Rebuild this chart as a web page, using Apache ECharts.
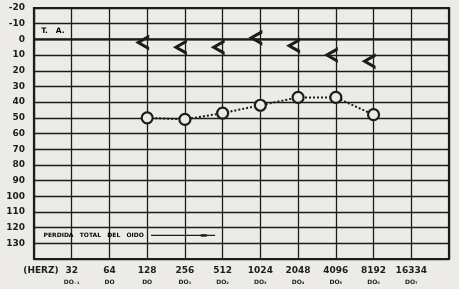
<!DOCTYPE html>
<html><head><meta charset="utf-8">
<script src="https://cdn.jsdelivr.net/npm/echarts@6/dist/echarts.min.js"></script>
<style>html,body{margin:0;padding:0;background:#ecebe8}#c{width:459px;height:289px}</style>
</head><body><div id="c"></div>
<script>
const freqLabels = ['32','64','128','256','512','1024','2048','4096','8192','16334'];
const noteLabels = ['DO₋₁','DO','DO','DO₁','DO₂','DO₃','DO₄','DO₅','DO₆','DO₇'];
const freqPos = [1,2,3,4,5,6,7,8,9,10];
const testPos = [3,4,5,6,7,8,9];
const airValues = [50,51,47,42,37,37,48];
const boneValues = [2,5,5,-1,4,10,14];
const yTicks = [-20,-10,0,10,20,30,40,50,60,70,80,90,100,110,120,130];

const ink = '#1c1c1c';
const bg = '#ecebe8';
const chart = echarts.init(document.getElementById('c'));
const chev = 'path://M13,0 L0,8 L13,16 L13,12.4 L5.6,8 L13,3.6 Z';
chart.setOption({
  backgroundColor: bg,
  animation: false,
  grid: {left: 34, right: 10, top: 8, bottom: 30, show: true, borderColor: ink, borderWidth: 2.2, backgroundColor: 'transparent'},
  xAxis: {
    type: 'value', min: 0, max: 11, interval: 1,
    axisLine: {show: false}, axisTick: {show: false},
    splitLine: {show: true, lineStyle: {color: ink, width: 1.3}},
    axisLabel: {
      margin: 6, color: ink,
      formatter: function (v) {
        if (v === 0) return '{h|(HERZ)}\n{b| }';
        const i = freqPos.indexOf(v);
        if (i < 0) return '';
        return '{a|' + freqLabels[i] + '}\n{b|' + noteLabels[i] + '}';
      },
      rich: {
        a: {fontFamily: 'DejaVu Sans', fontWeight: 'bold', fontSize: 9, color: ink, lineHeight: 12},
        h: {fontFamily: 'DejaVu Sans', fontWeight: 'bold', fontSize: 9, color: ink, lineHeight: 12, padding: [0,0,0,14]},
        b: {fontFamily: 'DejaVu Sans', fontWeight: 'bold', fontSize: 6, color: ink, lineHeight: 10}
      }
    }
  },
  yAxis: {
    type: 'value', inverse: true, min: -20, max: 140, interval: 10,
    axisLine: {show: false}, axisTick: {show: false},
    splitLine: {show: true, lineStyle: {color: ink, width: 1.3}},
    axisLabel: {
      margin: 9, color: ink, fontFamily: 'DejaVu Sans', fontWeight: 'bold', fontSize: 9,
      formatter: function (v) { return yTicks.indexOf(v) >= 0 ? String(v) : ''; }
    }
  },
  series: [
    {
      type: 'line', data: [[0, 0], [11, 0]], symbol: 'none', silent: true,
      lineStyle: {color: ink, width: 2.4}, z: 1
    },
    {
      type: 'scatter', symbol: 'circle', symbolSize: 1, silent: true,
      itemStyle: {color: 'rgba(0,0,0,0)', opacity: 1},
      data: [[0.5, -5]],
      label: {show: true, opacity: 1, position: 'inside', formatter: 'T.   A.', color: '#000', fontFamily: 'DejaVu Sans', fontWeight: 'bold', fontSize: 7.5}
    },
    {
      type: 'scatter', symbol: 'circle', symbolSize: 1, silent: true,
      itemStyle: {color: 'rgba(0,0,0,0)', opacity: 1},
      data: [[0.24, 125]],
      label: {show: true, opacity: 1, position: 'right', distance: 0, formatter: 'PERDIDA   TOTAL   DEL   OIDO', color: '#000', fontFamily: 'DejaVu Sans', fontWeight: 'bold', fontSize: 6}
    },
    {
      type: 'line', silent: true, symbol: 'none',
      data: [[3.1, 125], [4.8, 125]],
      lineStyle: {color: ink, width: 1.2}
    },
    {
      type: 'scatter', silent: true, symbol: 'rect', symbolSize: [6, 2.5],
      data: [[4.5, 125]], itemStyle: {color: ink, opacity: 1}
    },
    {
      type: 'line', data: testPos.map((x, i) => [x, airValues[i]]),
      symbol: 'circle', symbolSize: 11,
      lineStyle: {color: ink, width: 2, type: [2, 2]},
      itemStyle: {color: bg, borderColor: ink, borderWidth: 2.2}, z: 5
    },
    {
      type: 'scatter', data: testPos.map((x, i) => [x, boneValues[i]]),
      symbol: chev, symbolSize: [14, 16], symbolOffset: [-5, 0], symbolKeepAspect: false,
      itemStyle: {color: ink, opacity: 1}, z: 6
    }
  ]
});
</script></body></html>
